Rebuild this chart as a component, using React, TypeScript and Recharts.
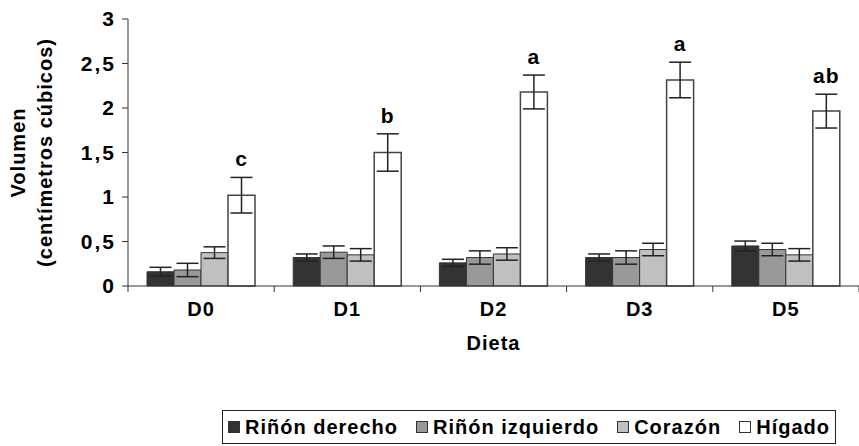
import React from 'react';
import {
  BarChart,
  Bar,
  XAxis,
  YAxis,
  ErrorBar,
  LabelList,
  Legend,
} from 'recharts';

const categories = ['D0', 'D1', 'D2', 'D3', 'D5'];

const rinonDerecho = [0.16, 0.32, 0.26, 0.32, 0.45];
const rinonDerechoErr = [0.05, 0.04, 0.04, 0.04, 0.055];
const rinonIzquierdo = [0.18, 0.38, 0.32, 0.32, 0.41];
const rinonIzquierdoErr = [0.075, 0.07, 0.075, 0.075, 0.07];
const corazon = [0.375, 0.35, 0.36, 0.41, 0.35];
const corazonErr = [0.065, 0.07, 0.07, 0.07, 0.07];
const higado = [1.02, 1.5, 2.18, 2.315, 1.965];
const higadoErr = [0.2, 0.21, 0.19, 0.2, 0.19];
const letters = ['c', 'b', 'a', 'a', 'ab'];

const yTicks = [0, 0.5, 1, 1.5, 2, 2.5, 3];

const seriesNames = ['Riñón derecho', 'Riñón izquierdo', 'Corazón', 'Hígado'];
const seriesColors = ['#333333', '#999999', '#c0c0c0', '#ffffff'];

const FONT = '"Liberation Sans", Arial, sans-serif';
const FS = 20;
const LS = 1;
const EDGE = '#333333';

const txt = { fill: '#000', fontSize: FS, fontWeight: 'bold' as const, fontFamily: FONT, letterSpacing: LS };

// build rows for recharts
const data = categories.map((c, i) => ({
  dieta: c,
  der: rinonDerecho[i],
  derErr: rinonDerechoErr[i],
  izq: rinonIzquierdo[i],
  izqErr: rinonIzquierdoErr[i],
  cor: corazon[i],
  corErr: corazonErr[i],
  hig: higado[i],
  higErr: higadoErr[i],
}));

const fmt = (v: number) => String(v).replace('.', ',');

// category tick: label in the middle, tick marks on the band edges
const CatTick = (props: any) => {
  const { x, y, payload, index } = props;
  const off = payload?.offset ?? 0;
  return (
    <g>
      <line x1={x - off} x2={x - off} y1={y} y2={y + 6} stroke={EDGE} />
      {index === categories.length - 1 && (
        <line x1={x + off} x2={x + off} y1={y} y2={y + 6} stroke={EDGE} />
      )}
      <text x={x} y={y + 16} dy="0.71em" textAnchor="middle" style={txt}>
        {payload.value}
      </text>
    </g>
  );
};

const YTick = (props: any) => {
  const { x, y, payload } = props;
  return (
    <text x={x} y={y} dy="0.355em" textAnchor="end" style={{ ...txt, fontSize: 21, letterSpacing: 2 }}>
      {fmt(payload.value)}
    </text>
  );
};

const YTitle = (props: any) => {
  const vb = props.viewBox || {};
  const cy = (vb.y ?? 0) + (vb.height ?? 0) / 2;
  return (
    <g>
      <text x={18} y={cy} transform={`rotate(-90 18 ${cy})`} textAnchor="middle" dominantBaseline="central" style={txt}>
        Volumen
      </text>
      <text x={45} y={cy} transform={`rotate(-90 45 ${cy})`} textAnchor="middle" dominantBaseline="central" style={txt}>
        (centímetros cúbicos)
      </text>
    </g>
  );
};

const XTitle = (props: any) => {
  const vb = props.viewBox || {};
  const cx = (vb.x ?? 0) + (vb.width ?? 0) / 2;
  return (
    <text x={cx} y={(vb.y ?? 0) + 64} textAnchor="middle" style={txt}>
      Dieta
    </text>
  );
};

const LetterLabel = (props: any) => {
  const { x, y, width, height, index } = props;
  const v = higado[index];
  const e = higadoErr[index];
  const errTop = Number(y) - (Number(height) * e) / v;
  return (
    <text x={Number(x) + Number(width) / 2} y={errTop - 11} textAnchor="middle" style={{ ...txt, fontSize: 21 }}>
      {letters[index]}
    </text>
  );
};

const LegendBox = () => (
  <div
    style={{
      display: 'flex',
      alignItems: 'center',
      justifyContent: 'space-between',
      boxSizing: 'border-box',
      height: 34,
      padding: '0 5px',
      border: '1px solid #222',
      fontFamily: FONT,
      fontWeight: 'bold',
      fontSize: FS,
      letterSpacing: LS,
      color: '#000',
      background: '#fff',
    }}
  >
    {seriesNames.map((name, i) => (
      <div key={name} style={{ display: 'flex', alignItems: 'center' }}>
        <span
          style={{
            display: 'inline-block',
            width: 10,
            height: 10,
            marginRight: 5,
            background: seriesColors[i],
            border: `1px solid ${EDGE}`,
          }}
        />
        <span>{name}</span>
      </div>
    ))}
  </div>
);

export default function App() {
  return (
    <div style={{ position: 'absolute', left: 0, top: 0, background: '#fff' }}>
      <BarChart
        width={859}
        height={446}
        data={data}
        margin={{ top: 19, right: 0, left: 0, bottom: 90 }}
        barCategoryGap="13%"
        barGap={0}
      >
        <XAxis
          dataKey="dieta"
          height={70}
          axisLine={{ stroke: EDGE }}
          tickLine={false}
          tickSize={0}
          tickMargin={0}
          tick={<CatTick />}
          interval={0}
          label={{ content: (p: any) => <XTitle {...p} /> }}
        />
        <YAxis
          width={128}
          domain={[0, 3]}
          ticks={yTicks}
          axisLine={{ stroke: EDGE }}
          tickLine={{ stroke: EDGE }}
          tickSize={6}
          tickMargin={6}
          tick={<YTick />}
          label={{ content: (p: any) => <YTitle {...p} /> }}
        />
        <Legend
          layout="horizontal"
          verticalAlign="middle"
          align="center"
          wrapperStyle={{ left: 222, top: 410, width: 614, height: 34 }}
          content={() => <LegendBox />}
        />
        <Bar dataKey="der" name={seriesNames[0]} fill={seriesColors[0]} stroke={EDGE} isAnimationActive={false}>
          <ErrorBar dataKey="derErr" width={11} stroke="#222" strokeWidth={1.5} direction="y" />
        </Bar>
        <Bar dataKey="izq" name={seriesNames[1]} fill={seriesColors[1]} stroke={EDGE} isAnimationActive={false}>
          <ErrorBar dataKey="izqErr" width={11} stroke="#222" strokeWidth={1.5} direction="y" />
        </Bar>
        <Bar dataKey="cor" name={seriesNames[2]} fill={seriesColors[2]} stroke={EDGE} isAnimationActive={false}>
          <ErrorBar dataKey="corErr" width={11} stroke="#222" strokeWidth={1.5} direction="y" />
        </Bar>
        <Bar dataKey="hig" name={seriesNames[3]} fill={seriesColors[3]} stroke="#444" strokeWidth={1.5} isAnimationActive={false}>
          <ErrorBar dataKey="higErr" width={11} stroke="#222" strokeWidth={1.5} direction="y" />
          <LabelList dataKey="hig" content={(p: any) => <LetterLabel {...p} />} />
        </Bar>
      </BarChart>
    </div>
  );
}
